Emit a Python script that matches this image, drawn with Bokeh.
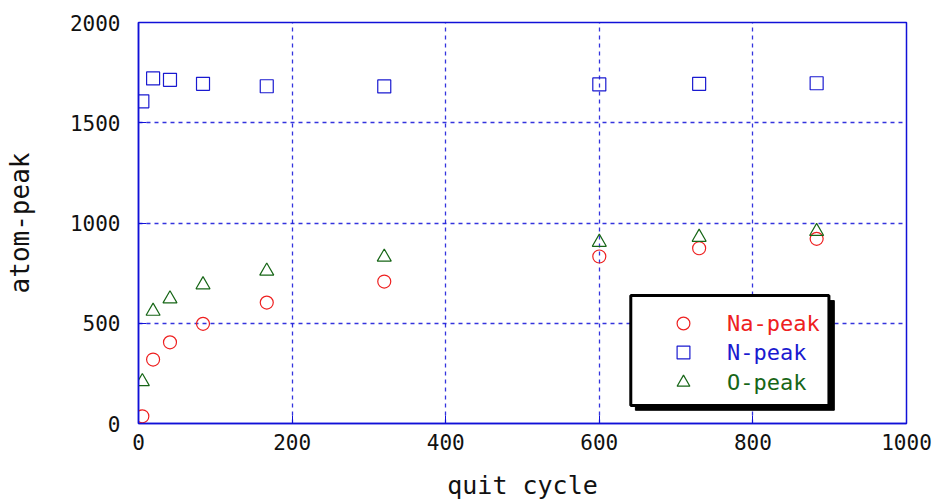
from bokeh.plotting import figure
from bokeh.models import (Range1d, FixedTicker, Legend, LegendItem, BoxAnnotation)
from bokeh.embed import file_html
from bokeh.resources import INLINE

# ---- data ----
cycles = [5, 19, 41, 84, 167, 320, 600, 730, 883]
na_peak = [36, 319, 405, 497, 603, 708, 833, 874, 921]
n_peak = [1607, 1721, 1714, 1694, 1682, 1681, 1691, 1694, 1697]
o_peak = [209, 560, 622, 692, 760, 830, 904, 929, 958]
x_ticks = [0, 200, 400, 600, 800, 1000]
y_ticks = [0, 500, 1000, 1500, 2000]
series_labels = ["Na-peak", "N-peak", "O-peak"]

RED = "#ee2020"
BLUE = "#1a1ad0"
GREEN = "#176617"
AX = "#1010d8"
FONT = "DejaVu Sans Mono"

p = figure(width=934, height=503, output_backend="svg", toolbar_location=None,
           x_range=Range1d(0, 1000), y_range=Range1d(0, 2000),
           min_border_left=138, min_border_right=28, min_border_top=22, min_border_bottom=80)

p.outline_line_color = AX
p.outline_line_width = 1.5
p.background_fill_color = "white"

for ax, ticks in ((p.xaxis, x_ticks), (p.yaxis, y_ticks)):
    ax.ticker = FixedTicker(ticks=ticks)
    ax.axis_line_color = AX
    ax.axis_line_width = 1.5
    ax.major_tick_line_color = AX
    ax.major_tick_in = 8
    ax.major_tick_out = 0
    ax.minor_tick_line_color = None
    ax.major_label_text_font = FONT
    ax.major_label_text_font_size = "21px"
    ax.major_label_text_color = "#111111"
    ax.axis_label_text_font = FONT
    ax.axis_label_text_font_size = "25px"
    ax.axis_label_text_font_style = "normal"
    ax.axis_label_text_color = "#111111"

p.xaxis.axis_label = "quit cycle"
p.yaxis.axis_label = "atom-peak"
p.yaxis.axis_label_text_font_size = "26px"
p.xaxis.major_label_standoff = 10
p.yaxis.major_label_standoff = 18
p.xaxis.axis_label_standoff = 18
p.yaxis.axis_label_standoff = 32

p.xgrid.ticker = FixedTicker(ticks=x_ticks)
p.ygrid.ticker = FixedTicker(ticks=y_ticks)
for g in (p.xgrid, p.ygrid):
    g.grid_line_color = AX
    g.grid_line_alpha = 0.85
    g.grid_line_width = 1.3
    g.grid_line_dash = "4 4"

r_na = p.scatter(cycles, na_peak, marker="circle", size=13, fill_color=None,
                 line_color=RED, line_width=1.2)
r_n = p.scatter(cycles, n_peak, marker="square", size=13, fill_color=None,
                line_color=BLUE, line_width=1.2)
r_o = p.scatter(cycles, o_peak, marker="triangle", size=14, fill_color=None,
                line_color=GREEN, line_width=1.2)

# legend frame with drop shadow
shadow = BoxAnnotation(left=647, right=906, bottom=66, top=613,
                       fill_color="black", fill_alpha=1, line_color="black", line_alpha=1)
box = BoxAnnotation(left=641, right=899, bottom=90, top=638,
                    fill_color="white", fill_alpha=1, line_color="black",
                    line_alpha=1, line_width=3)
p.add_layout(shadow)
p.add_layout(box)

for lbl, r, col, yy in zip(series_labels, (r_na, r_n, r_o), (RED, BLUE, GREEN), (100, 71, 41)):
    lg = Legend(items=[LegendItem(label=lbl, renderers=[r])], location=(529, yy - 16),
                border_line_alpha=0, background_fill_alpha=0,
                label_text_color=col, label_text_font=FONT, label_text_font_size="22px",
                glyph_width=32, glyph_height=32, label_standoff=28,
                padding=0, margin=0, spacing=0, label_height=32)
    p.add_layout(lg)

open("out.html", "w").write(file_html(p, INLINE))
